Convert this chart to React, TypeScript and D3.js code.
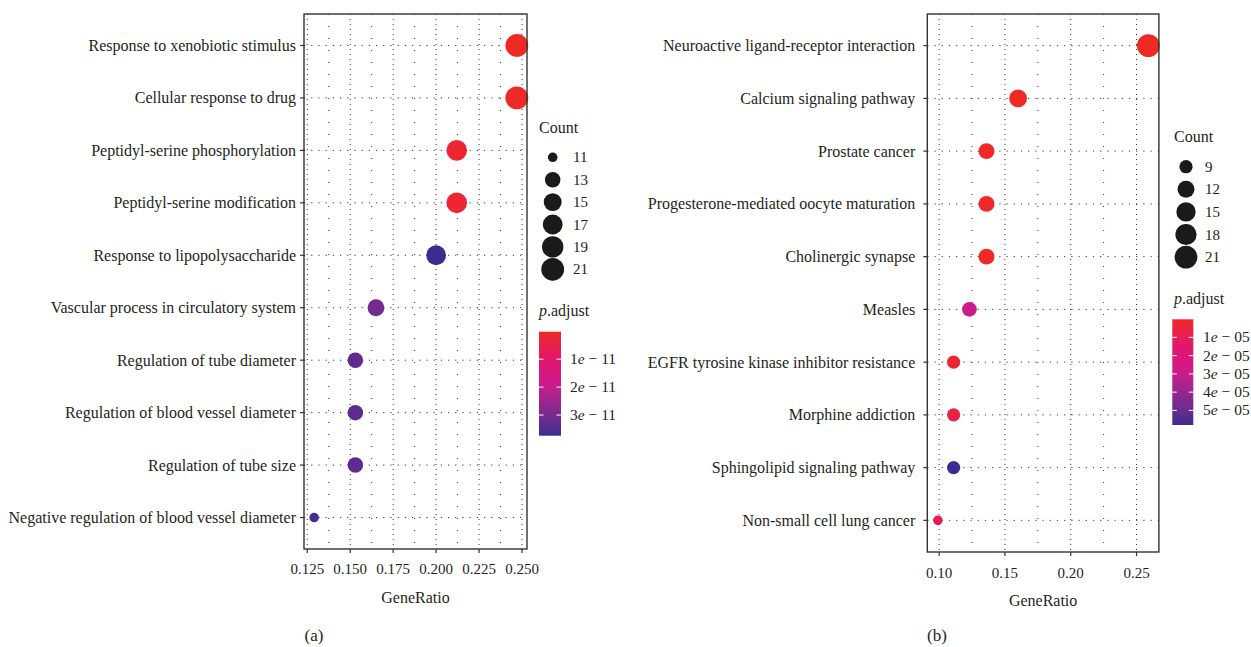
import React, { useEffect, useRef } from "react";
import * as d3 from "d3";

// ---- panel (a): GO terms ----
const termsA = [
	"Response to xenobiotic stimulus",
	"Cellular response to drug",
	"Peptidyl-serine phosphorylation",
	"Peptidyl-serine modification",
	"Response to lipopolysaccharide",
	"Vascular process in circulatory system",
	"Regulation of tube diameter",
	"Regulation of blood vessel diameter",
	"Regulation of tube size",
	"Negative regulation of blood vessel diameter",
];
const ratiosA = [0.247, 0.247, 0.212, 0.212, 0.2, 0.165, 0.153, 0.153, 0.153, 0.129];
const countsA = [21, 21, 18, 18, 17, 14, 13, 13, 13, 11];
const padjA = [1.5e-13, 4e-13, 1.6e-12, 1.9e-12, 3.74e-11, 3.05e-11, 3.35e-11, 3.35e-11, 3.35e-11, 3.65e-11];
const xTicksA = [0.125, 0.15, 0.175, 0.2, 0.225, 0.25];
const sizeBreaksA = [11, 13, 15, 17, 19, 21];
const pTicksA = [1e-11, 2e-11, 3e-11];

// ---- panel (b): KEGG pathways ----
const termsB = [
	"Neuroactive ligand-receptor interaction",
	"Calcium signaling pathway",
	"Prostate cancer",
	"Progesterone-mediated oocyte maturation",
	"Cholinergic synapse",
	"Measles",
	"EGFR tyrosine kinase inhibitor resistance",
	"Morphine addiction",
	"Sphingolipid signaling pathway",
	"Non-small cell lung cancer",
];
const ratiosB = [0.259, 0.16, 0.136, 0.136, 0.136, 0.123, 0.111, 0.111, 0.111, 0.099];
const countsB = [21, 13, 11, 11, 11, 10, 9, 9, 9, 8];
const padjB = [1e-7, 2e-7, 6e-7, 6e-7, 8e-7, 2.9e-5, 3e-6, 7e-6, 5.8e-5, 9e-6];
const xTicksB = [0.1, 0.15, 0.2, 0.25];
const sizeBreaksB = [9, 12, 15, 18, 21];
const pTicksB = [1e-5, 2e-5, 3e-5, 4e-5, 5e-5];

const gradColors = ["#EE2A24", "#E3166A", "#CC1A8C", "#86288F", "#3A2D8F"];
const FONT = "'Liberation Serif', 'DejaVu Serif', serif";
const INK = "#231f20";

const panels = [
	{
		id: "a",
		terms: termsA, ratios: ratiosA, counts: countsA, padj: padjA,
		xTicks: xTicksA, fmt: d3.format(".3f"), sizeBreaks: sizeBreaksA, pTicks: pTicksA, exp: "11",
		frame: { x0: 304, x1: 527, y0: 14, y1: 549 }, labelGap: 8,
		legX: 539, countTitleY: 133, countY0: 157.3, countStep: 22.4, circX: 552.7, countLabX: 573,
		pTitleY: 316, bar: { x: 539, w: 22, y0: 331.7, y1: 435.7 }, pLabX: 570,
		tickLabY: 574, titleY: 603, tag: "(a)", tagX: 314,
	},
	{
		id: "b",
		terms: termsB, ratios: ratiosB, counts: countsB, padj: padjB,
		xTicks: xTicksB, fmt: d3.format(".2f"), sizeBreaks: sizeBreaksB, pTicks: pTicksB, exp: "05",
		frame: { x0: 927.3, x1: 1158.9, y0: 14, y1: 552 }, labelGap: 12,
		legX: 1174, countTitleY: 142, countY0: 166.7, countStep: 22.6, circX: 1186, countLabX: 1205,
		pTitleY: 304, bar: { x: 1172.3, w: 21, y0: 319.3, y1: 425 }, pLabX: 1203,
		tickLabY: 578, titleY: 606, tag: "(b)", tagX: 937,
	},
];

const drawPanel = (svg, p) => {
	const f = p.frame;
	const g = svg.append("g").attr("font-family", FONT).attr("fill", INK);

	const ext = d3.extent(p.ratios);
	const pad = (ext[1] - ext[0]) * 0.05;
	const x = d3.scaleLinear().domain([ext[0] - pad, ext[1] + pad]).range([f.x0, f.x1]);
	const y = d3.scalePoint().domain(p.terms).range([f.y0, f.y1]).padding(0.6);

	const cExt = d3.extent(p.counts);
	const tCount = d3.scaleLinear().domain(cExt).range([0, 1]);
	const rScale = d3.scaleSqrt().domain([0, 1]).range([4.8, 11.4]);
	const radius = (c) => rScale(tCount(c));

	const pExt = d3.extent(p.padj);
	const tP = d3.scaleLinear().domain(pExt).range([0, 1]);
	const colorT = d3.scaleLinear().domain([0, 0.25, 0.5, 0.75, 1]).range(gradColors).interpolate(d3.interpolateLab);
	const color = (v) => colorT(tP(v));

	// grid
	const step = p.xTicks[1] - p.xTicks[0];
	const minor = [p.xTicks[0] - step / 2, ...p.xTicks.map((t) => t + step / 2)]
		.filter((v) => v > x.domain()[0] && v < x.domain()[1]);
	g.append("g").selectAll("line").data(minor).enter().append("line")
		.attr("x1", (d) => x(d)).attr("x2", (d) => x(d)).attr("y1", f.y0).attr("y2", f.y1)
		.attr("stroke", "#333").attr("stroke-width", 1).attr("stroke-dasharray", "1,11");
	g.append("g").selectAll("line").data(p.xTicks).enter().append("line")
		.attr("x1", (d) => x(d)).attr("x2", (d) => x(d)).attr("y1", f.y0).attr("y2", f.y1)
		.attr("stroke", "#333").attr("stroke-width", 1).attr("stroke-dasharray", "1,4");
	g.append("g").selectAll("line").data(p.terms).enter().append("line")
		.attr("x1", f.x0).attr("x2", f.x1).attr("y1", (d) => y(d)).attr("y2", (d) => y(d))
		.attr("stroke", "#333").attr("stroke-width", 1).attr("stroke-dasharray", "1.2,6");

	// points
	g.append("g").selectAll("circle").data(p.terms).enter().append("circle")
		.attr("cx", (d, i) => x(p.ratios[i])).attr("cy", (d) => y(d))
		.attr("r", (d, i) => radius(p.counts[i]))
		.attr("fill", (d, i) => color(p.padj[i]));

	// frame
	g.append("rect").attr("x", f.x0).attr("y", f.y0).attr("width", f.x1 - f.x0).attr("height", f.y1 - f.y0)
		.attr("fill", "none").attr("stroke", "#333").attr("stroke-width", 1.4);

	// y axis
	const ya = g.append("g");
	ya.selectAll("line").data(p.terms).enter().append("line")
		.attr("x1", f.x0 - 4).attr("x2", f.x0).attr("y1", (d) => y(d)).attr("y2", (d) => y(d))
		.attr("stroke", "#333").attr("stroke-width", 1.2);
	ya.selectAll("text").data(p.terms).enter().append("text")
		.attr("x", f.x0 - p.labelGap).attr("y", (d) => y(d) + 5.5)
		.attr("text-anchor", "end").attr("font-size", 16).text((d) => d);

	// x axis
	const xa = g.append("g");
	xa.selectAll("line").data(p.xTicks).enter().append("line")
		.attr("x1", (d) => x(d)).attr("x2", (d) => x(d)).attr("y1", f.y1).attr("y2", f.y1 + 4)
		.attr("stroke", "#333").attr("stroke-width", 1.2);
	xa.selectAll("text").data(p.xTicks).enter().append("text")
		.attr("x", (d) => x(d)).attr("y", p.tickLabY).attr("text-anchor", "middle")
		.attr("font-size", 15).text((d) => p.fmt(d));
	g.append("text").attr("x", (f.x0 + f.x1) / 2).attr("y", p.titleY).attr("text-anchor", "middle")
		.attr("font-size", 16).text("GeneRatio");
	g.append("text").attr("x", p.tagX).attr("y", 641).attr("text-anchor", "middle")
		.attr("font-size", 17).text(p.tag);

	// size legend
	g.append("text").attr("x", p.legX).attr("y", p.countTitleY).attr("font-size", 16).text("Count");
	const sl = g.append("g").selectAll("g").data(p.sizeBreaks).enter().append("g")
		.attr("transform", (d, i) => `translate(0,${p.countY0 + i * p.countStep})`);
	sl.append("circle").attr("cx", p.circX).attr("r", (d) => radius(d)).attr("fill", "#1a1a1a");
	sl.append("text").attr("x", p.countLabX).attr("y", 5).attr("font-size", 15).text((d) => d);

	// colour legend
	const pt = g.append("text").attr("x", p.legX).attr("y", p.pTitleY).attr("font-size", 16);
	pt.append("tspan").attr("font-style", "italic").text("p");
	pt.append("tspan").text(".adjust");

	const b = p.bar;
	const gid = "grad-" + p.id;
	const grad = svg.append("defs").append("linearGradient").attr("id", gid)
		.attr("x1", 0).attr("x2", 0).attr("y1", 0).attr("y2", 1);
	grad.selectAll("stop").data(d3.range(0, 1.0001, 0.05)).enter().append("stop")
		.attr("offset", (d) => d).attr("stop-color", (d) => colorT(d));
	g.append("rect").attr("x", b.x).attr("y", b.y0).attr("width", b.w).attr("height", b.y1 - b.y0)
		.attr("fill", `url(#${gid})`);
	const barY = d3.scaleLinear().domain(pExt).range([b.y0, b.y1]);
	const tk = g.append("g").selectAll("g").data(p.pTicks).enter().append("g")
		.attr("transform", (d) => `translate(0,${barY(d)})`);
	tk.append("line").attr("x1", b.x).attr("x2", b.x + 4.5).attr("stroke", "#fff").attr("stroke-width", 1);
	tk.append("line").attr("x1", b.x + b.w - 4.5).attr("x2", b.x + b.w).attr("stroke", "#fff").attr("stroke-width", 1);
	const tl = tk.append("text").attr("x", p.pLabX).attr("y", 5).attr("font-size", 15.5);
	tl.append("tspan").text((d) => Math.round(d / Math.pow(10, -+p.exp)));
	tl.append("tspan").attr("font-style", "italic").text("e");
	tl.append("tspan").text(" \u2212 " + p.exp);
};

const App = () => {
	const svgRef = useRef(null);

	useEffect(() => {
		const svg = d3.select(svgRef.current);
		svg.selectAll("*").remove();
		panels.forEach((p) => drawPanel(svg, p));
	}, []);

	return (
		<svg
			ref={svgRef}
			width={1251}
			height={647}
			style={{ position: "absolute", left: 0, top: 0, background: "#fff" }}
		/>
	);
};

export default App;
